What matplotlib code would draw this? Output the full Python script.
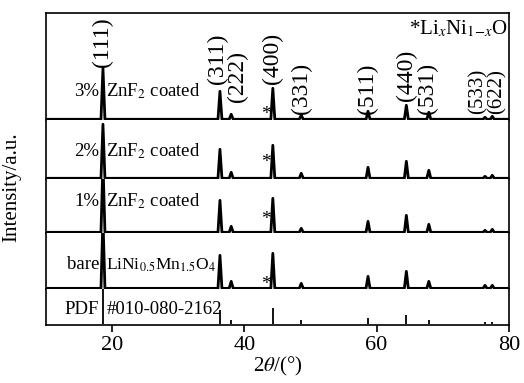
import matplotlib
matplotlib.use('Agg')
import matplotlib.pyplot as plt

plt.rcParams['font.family'] = ['Liberation Serif', 'DejaVu Serif']
plt.rcParams['mathtext.fontset'] = 'stix'

# peak positions (2theta) and hkl labels
pos = [18.6, 36.3, 38.0, 44.3, 48.6, 58.7, 64.5, 67.9, 76.4, 77.5]
hkl = ['(111)', '(311)', '(222)', '(400)', '(331)', '(511)', '(440)', '(531)', '(533)', '(622)']

# peak heights (a.u.)
h_3 = [51, 28, 5, 31, 4, 8, 14, 7, 2, 3]
h_2 = [54, 29, 6, 33, 5, 11, 17, 8, 2, 3]
h_1 = [70, 32, 6, 34, 4, 11, 17, 8, 2, 3]
h_bare = [70, 33, 7, 35, 5, 12, 17, 7, 3, 3]
h_pdf = [36, 14, 4, 16, 4, 6, 9, 4, 2, 2]

samples = ['3%', '2%', '1%', 'bare', 'PDF']
names = ['ZnF$_2$ coated', 'ZnF$_2$ coated', 'ZnF$_2$ coated',
         'LiNi$_{0.5}$Mn$_{1.5}$O$_4$', '#010-080-2162']
name_size = [13.5, 13.5, 13.5, 12.5, 13.5]
heights = [h_3, h_2, h_1, h_bare, h_pdf]

# position of the LixNi1-xO asterisk in each pattern
star_x = 43.2
star_y = [0, 11, 8, -1]

# hkl label base heights in the top panel
hkl_y = [52, 35, 17, 35, 5, 5, 18, 5, 5, 5]
hkl_x = [18.5, 35.9, 38.9, 44.2, 48.6, 58.6, 64.5, 67.7, 75.4, 78.2]
hkl_size = [17, 17, 17, 17, 17, 17, 17, 17, 15, 15]

name_y = [23, 22, 26, 19, 10]
panel_h = [107, 59, 54, 56, 36]

fig, axes = plt.subplots(5, 1, figsize=(5.24, 3.83), dpi=100, sharex=True,
                         gridspec_kw={'height_ratios': panel_h, 'hspace': 0})
fig.subplots_adjust(left=0.088, right=0.971, top=0.966, bottom=0.151)

w = 0.3
for i, ax in enumerate(axes):
    hs = heights[i]
    if i < 4:
        xs = [10]
        ys = [0]
        for p, h in zip(pos, hs):
            xs += [p - w, p, p + w]
            ys += [0, h, 0]
        xs.append(80)
        ys.append(0)
        ax.plot(xs, ys, color='black', lw=2.0)
        ax.text(star_x, star_y[i], '*', fontsize=14, ha='center', va='baseline')
    else:
        ax.vlines(pos, 0, hs, color='black', lw=1.3)
    ax.set_xlim(10, 80)
    ax.set_ylim(-0.8, panel_h[i] - 0.8)
    ax.set_yticks([])
    for s in ax.spines.values():
        s.set_linewidth(1.2)
    if i > 0:
        ax.spines['top'].set_visible(False)
    if i < 4:
        ax.spines['bottom'].set_visible(False)
        ax.tick_params(axis='x', bottom=False)
    ax.text(18.0, name_y[i], samples[i], fontsize=13.5, ha='right', va='baseline')
    ax.text(19.1, name_y[i], names[i], fontsize=name_size[i], ha='left', va='baseline')

top = axes[0]
for x, y, lab, fs in zip(hkl_x, hkl_y, hkl, hkl_size):
    top.text(x, y, lab, rotation=90, fontsize=fs, ha='center', va='bottom')
top.text(79.8, 85, r'*Li$_{x}$Ni$_{1\mathrm{-}x}$O', fontsize=15, ha='right', va='baseline')

bot = axes[-1]
bot.set_xticks([20, 40, 60, 80])
bot.tick_params(axis='x', direction='out', length=5, width=1.2, labelsize=16, pad=3)
bot.set_xlabel(r'2$\theta$/(°)', fontsize=15, labelpad=0)

fig.text(0.022, 0.51, 'Intensity/a.u.', rotation=90, fontsize=15, ha='center', va='center')

plt.savefig('out.png', dpi=100)
